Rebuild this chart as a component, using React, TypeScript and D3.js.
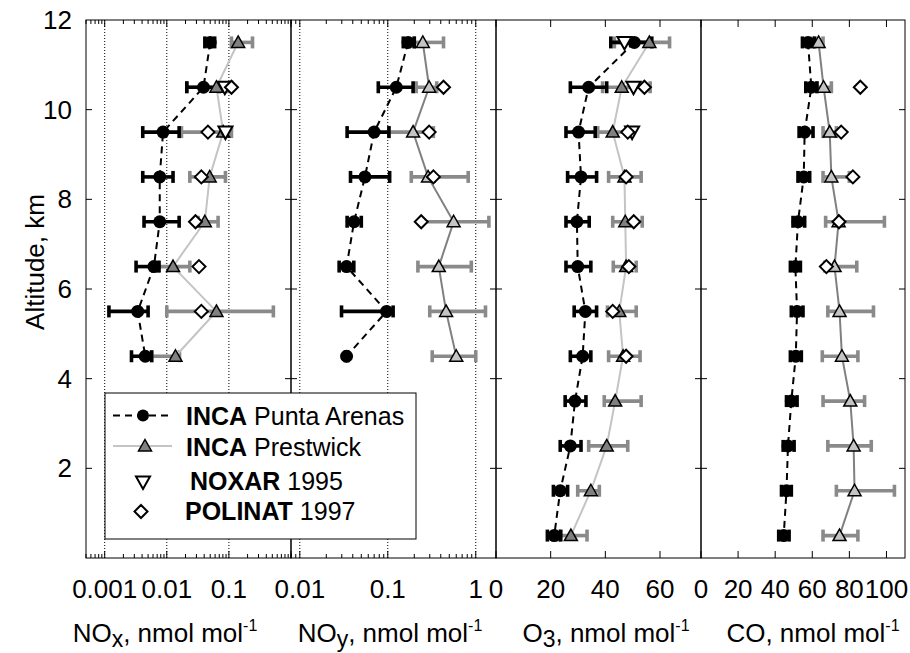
import * as d3 from "d3";

// [altitude km, mean, low, high]
type Row = [number, number, number, number];
// [altitude km, value]
type Pt = [number, number];

const altTicks = [2, 4, 6, 8, 10, 12];

const noxPunta: Row[] = [
  [11.5, 0.05, 0.041, 0.059],
  [10.5, 0.039, 0.021, 0.07],
  [9.5, 0.0087, 0.0041, 0.0158],
  [8.5, 0.0077, 0.0041, 0.0126],
  [7.5, 0.0077, 0.0043, 0.0158],
  [6.5, 0.0062, 0.0032, 0.0075],
  [5.5, 0.0034, 0.00117, 0.005],
  [4.5, 0.0045, 0.0027, 0.0057],
];
const noxPrest: Row[] = [
  [11.5, 0.141, 0.11, 0.24],
  [10.5, 0.063, 0.021, 0.092],
  [9.5, 0.081, 0.0172, 0.11],
  [8.5, 0.049, 0.0235, 0.088],
  [7.5, 0.041, 0.032, 0.067],
  [6.5, 0.0126, 0.0072, 0.0235],
  [5.5, 0.063, 0.01, 0.52],
  [4.5, 0.0138, 0.0057, 0.016],
];
const noxNoxar: Pt[] = [
  [10.5, 0.086],
  [9.5, 0.088],
];
const noxPolinat: Pt[] = [
  [10.5, 0.11],
  [9.5, 0.046],
  [8.5, 0.036],
  [7.5, 0.029],
  [6.5, 0.033],
  [5.5, 0.036],
];

const noyPunta: Row[] = [
  [11.5, 0.17, 0.15, 0.2],
  [10.5, 0.125, 0.078, 0.194],
  [9.5, 0.07, 0.0345, 0.103],
  [8.5, 0.055, 0.0377, 0.105],
  [7.5, 0.0414, 0.0345, 0.05],
  [6.5, 0.034, 0.028, 0.0411],
  [5.5, 0.097, 0.0298, 0.115],
  [4.5, 0.034, 0.033, 0.035],
];
const noyPrest: Row[] = [
  [11.5, 0.25, 0.2, 0.43],
  [10.5, 0.295, 0.21, 0.36],
  [9.5, 0.194, 0.103, 0.33],
  [8.5, 0.287, 0.185, 0.82],
  [7.5, 0.56, 0.24, 1.41],
  [6.5, 0.38, 0.22, 0.89],
  [5.5, 0.46, 0.3, 1.29],
  [4.5, 0.6, 0.32, 1.0],
];
const noyPolinat: Pt[] = [
  [10.5, 0.43],
  [9.5, 0.295],
  [8.5, 0.33],
  [7.5, 0.24],
];

const o3Punta: Row[] = [
  [11.5, 50.6, 42, 57],
  [10.5, 33.9, 27.2, 40.5],
  [9.5, 30.2, 25.6, 36.3],
  [8.5, 31.1, 26.2, 36.8],
  [7.5, 29.6, 25.6, 34.1],
  [6.5, 29.9, 25.6, 34.7],
  [5.5, 32.7, 28.6, 36.8],
  [4.5, 31.7, 27.2, 34.7],
  [3.5, 28.9, 25.3, 32.9],
  [2.5, 27.2, 23.5, 31.1],
  [1.5, 23.5, 21, 26.2],
  [0.5, 21.3, 18.8, 23.7],
];
const o3Prest: Row[] = [
  [11.5, 56.1, 43.3, 63.5],
  [10.5, 46, 39, 56.4],
  [9.5, 42.7, 37.2, 49.4],
  [8.5, 47, 41.2, 53.1],
  [7.5, 47.3, 42.7, 53.5],
  [6.5, 47.6, 42.9, 51.3],
  [5.5, 45.1, 40.8, 51.3],
  [4.5, 46.5, 41.2, 52.7],
  [3.5, 43.6, 39.6, 53.1],
  [2.5, 40.5, 33.9, 48.2],
  [1.5, 34.7, 29.9, 37.8],
  [0.5, 27.4, 23.1, 33.3],
];
const o3Noxar: Pt[] = [
  [11.5, 47],
  [10.5, 50.3],
  [9.5, 49.8],
];
const o3Polinat: Pt[] = [
  [10.5, 54.3],
  [9.5, 48.2],
  [8.5, 47.6],
  [7.5, 50.4],
  [6.5, 48.6],
  [5.5, 42.7],
  [4.5, 47.6],
];

const coPunta: Row[] = [
  [11.5, 57.7, 54.7, 61.3],
  [10.5, 59.5, 56.5, 62.5],
  [9.5, 55.9, 52.9, 60.4],
  [8.5, 55.4, 52.3, 58.6],
  [7.5, 52.3, 49.6, 55.9],
  [6.5, 50.9, 48.2, 53.6],
  [5.5, 51.8, 48.7, 55],
  [4.5, 51.1, 48.2, 54.1],
  [3.5, 48.7, 46.1, 51.8],
  [2.5, 46.9, 44.3, 50.2],
  [1.5, 46.1, 43.4, 48.7],
  [0.5, 44.6, 41.9, 47.5],
];
const coPrest: Row[] = [
  [11.5, 63.4, 60.4, 65.8],
  [10.5, 66.1, 62.5, 70.3],
  [9.5, 69.4, 65.8, 73],
  [8.5, 70.3, 65.8, 80],
  [7.5, 74.2, 67.2, 98.9],
  [6.5, 72, 66.7, 84],
  [5.5, 74.7, 68.4, 93],
  [4.5, 76, 65.4, 84.6],
  [3.5, 80.5, 65.8, 88.2],
  [2.5, 82.3, 68.4, 91.8],
  [1.5, 82.8, 73, 104.3],
  [0.5, 74.7, 65.8, 84.6],
];
const coPolinat: Pt[] = [
  [10.5, 85.9],
  [9.5, 75.6],
  [8.5, 81.9],
  [7.5, 74.4],
  [6.5, 67.6],
];

const noxTicks = [0.001, 0.01, 0.1];
const noyTicks = [0.01, 0.1, 1];
const o3Ticks = [0, 20, 40, 60];
const coTicks = [0, 20, 40, 60, 80, 100];

const FONT = "Liberation Sans, Arial, Helvetica, sans-serif";
const TOP = 20;
const BOTTOM = 558;
const LIGHT = "#c4c4c4";
const DARK = "#808080";
const BAR = "#8a8a8a";

const y = d3.scaleLinear().domain([0, 12]).range([BOTTOM, TOP]);

type XScale = (v: number) => number;

interface PanelDef {
  x: XScale;
  x0: number;
  x1: number;
  log: boolean;
  domain: [number, number];
  ticks: number[];
  punta: Row[];
  prest: Row[];
  noxar: Pt[];
  polinat: Pt[];
  prestLine: string;
  prestFill: string;
  title: string;
  sub?: string;
  titleX: number;
}

const xNOx = d3.scaleLog().domain([0.0005, 1]).range([86, 291]);
const xNOy = d3
  .scaleLog()
  .domain([Math.pow(10, -2.1), Math.pow(10, 0.23)])
  .range([291, 496]);
const xO3 = d3.scaleLinear().domain([0, 75]).range([496, 701]);
const xCO = d3.scaleLinear().domain([0, 110]).range([701, 905]);

const panels: PanelDef[] = [
  {
    x: xNOx, x0: 86, x1: 291, log: true, domain: [0.0005, 1], ticks: noxTicks,
    punta: noxPunta, prest: noxPrest, noxar: noxNoxar, polinat: noxPolinat,
    prestLine: LIGHT, prestFill: DARK, title: "NO", sub: "x", titleX: 165,
  },
  {
    x: xNOy, x0: 291, x1: 496, log: true, domain: [Math.pow(10, -2.1), Math.pow(10, 0.23)],
    ticks: noyTicks, punta: noyPunta, prest: noyPrest, noxar: [], polinat: noyPolinat,
    prestLine: DARK, prestFill: LIGHT, title: "NO", sub: "y", titleX: 390,
  },
  {
    x: xO3, x0: 496, x1: 701, log: false, domain: [0, 75], ticks: o3Ticks,
    punta: o3Punta, prest: o3Prest, noxar: o3Noxar, polinat: o3Polinat,
    prestLine: LIGHT, prestFill: DARK, title: "O", sub: "3", titleX: 606,
  },
  {
    x: xCO, x0: 701, x1: 905, log: false, domain: [0, 110], ticks: coTicks,
    punta: coPunta, prest: coPrest, noxar: [], polinat: coPolinat,
    prestLine: DARK, prestFill: LIGHT, title: "CO", titleX: 813,
  },
];

function logTicks(domain: [number, number]) {
  const out: { v: number; major: boolean }[] = [];
  const e0 = Math.floor(Math.log10(domain[0]));
  const e1 = Math.ceil(Math.log10(domain[1]));
  for (let e = e0; e <= e1; e++) {
    for (let m = 1; m <= 9; m++) {
      const v = m * Math.pow(10, e);
      if (v >= domain[0] * 0.999 && v <= domain[1] * 1.001) out.push({ v, major: m === 1 });
    }
  }
  return out;
}

const up = "M0,-6.5L6.5,5L-6.5,5Z";
const down = "M0,7L7,-5.5L-7,-5.5Z";
const diamond = "M0,-6.5L6.5,0L0,6.5L-6.5,0Z";

function ErrBars({ rows, x, color }: { rows: Row[]; x: XScale; color: string }) {
  return (
    <g stroke={color} strokeWidth={3.6} fill="none">
      {rows.map((r, i) => {
        const yy = y(r[0]);
        const a = x(r[2]);
        const b = x(r[3]);
        return (
          <g key={i}>
            <line x1={a} x2={b} y1={yy} y2={yy} />
            <line x1={a} x2={a} y1={yy - 6} y2={yy + 6} />
            <line x1={b} x2={b} y1={yy - 6} y2={yy + 6} />
          </g>
        );
      })}
    </g>
  );
}

function Panel({ p }: { p: PanelDef }) {
  const line = d3
    .line<Row>()
    .x((d) => p.x(d[1]))
    .y((d) => y(d[0]));
  const tickMarks = p.log
    ? logTicks(p.domain)
    : p.ticks.map((v) => ({ v, major: true }));
  return (
    <g>
      {p.log &&
        p.ticks.map((v) => (
          <line
            key={"g" + v}
            x1={p.x(v)}
            x2={p.x(v)}
            y1={TOP}
            y2={BOTTOM}
            stroke="#000"
            strokeWidth={1}
            strokeDasharray="1,2"
          />
        ))}
      <ErrBars rows={p.prest} x={p.x} color={BAR} />
      <path d={line(p.prest) || ""} fill="none" stroke={p.prestLine} strokeWidth={2} />
      <ErrBars rows={p.punta} x={p.x} color="#000" />
      <path
        d={line(p.punta) || ""}
        fill="none"
        stroke="#000"
        strokeWidth={2}
        strokeDasharray="7,5"
      />
      {p.prest.map((r, i) => (
        <path
          key={"t" + i}
          d={up}
          transform={`translate(${p.x(r[1])},${y(r[0])})`}
          fill={p.prestFill}
          stroke="#000"
          strokeWidth={1.5}
        />
      ))}
      {p.punta.map((r, i) => (
        <circle key={"c" + i} cx={p.x(r[1])} cy={y(r[0])} r={6.5} fill="#000" />
      ))}
      {p.noxar.map((r, i) => (
        <path
          key={"n" + i}
          d={down}
          transform={`translate(${p.x(r[1])},${y(r[0])})`}
          fill="#fff"
          stroke="#000"
          strokeWidth={2}
        />
      ))}
      {p.polinat.map((r, i) => (
        <path
          key={"p" + i}
          d={diamond}
          transform={`translate(${p.x(r[1])},${y(r[0])})`}
          fill="#fff"
          stroke="#000"
          strokeWidth={2}
        />
      ))}
      <rect
        x={p.x0}
        y={TOP}
        width={p.x1 - p.x0}
        height={BOTTOM - TOP}
        fill="none"
        stroke="#000"
        strokeWidth={1}
      />
      <g stroke="#000" strokeWidth={1}>
        {altTicks.slice(0, -1).map((a) => (
          <g key={"y" + a}>
            <line x1={p.x0} x2={p.x0 + 6} y1={y(a)} y2={y(a)} />
            <line x1={p.x1} x2={p.x1 - 6} y1={y(a)} y2={y(a)} />
          </g>
        ))}
        {tickMarks.map((t, i) => {
          const len = t.major ? 7 : 4;
          const xx = p.x(t.v);
          return (
            <g key={"x" + i}>
              <line x1={xx} x2={xx} y1={TOP} y2={TOP + len} />
              <line x1={xx} x2={xx} y1={BOTTOM} y2={BOTTOM - len} />
            </g>
          );
        })}
      </g>
      <g fontFamily={FONT} fontSize={26} textAnchor="middle" fill="#000">
        {p.ticks.map((v) => (
          <text key={"l" + v} x={p.x(v)} y={598}>
            {String(v)}
          </text>
        ))}
        <text x={p.titleX} y={642}>
          {p.title}
          {p.sub && (
            <tspan fontSize={23} dy={5}>
              {p.sub}
            </tspan>
          )}
          <tspan dy={p.sub ? -5 : 0}>, nmol mol</tspan>
          <tspan fontSize={16} dy={-11}>
            -1
          </tspan>
        </text>
      </g>
    </g>
  );
}

function Legend() {
  const x0 = 105;
  const rows = [415.5, 446, 482, 511.5];
  return (
    <g fontFamily={FONT} fontSize={25}>
      <rect x={x0} y={393} width={311} height={146} fill="#fff" stroke="#000" strokeWidth={1} />
      <line x1={113} x2={172} y1={rows[0]} y2={rows[0]} stroke="#000" strokeWidth={2} strokeDasharray="7,5" />
      <circle cx={143} cy={rows[0]} r={6} fill="#000" />
      <line x1={113} x2={172} y1={rows[1]} y2={rows[1]} stroke={LIGHT} strokeWidth={2} />
      <path d={up} transform={`translate(145,${rows[1]})`} fill={DARK} stroke="#000" strokeWidth={1.5} />
      <path d={down} transform={`translate(143,${rows[2]})`} fill="#fff" stroke="#000" strokeWidth={2} />
      <path d={diamond} transform={`translate(141,${rows[3]})`} fill="#fff" stroke="#000" strokeWidth={2} />
      <text x={186} y={425}>
        <tspan fontWeight="bold">INCA</tspan> Punta Arenas
      </text>
      <text x={186} y={456}>
        <tspan fontWeight="bold">INCA</tspan> Prestwick
      </text>
      <text x={190} y={490}>
        <tspan fontWeight="bold">NOXAR</tspan> 1995
      </text>
      <text x={185} y={520}>
        <tspan fontWeight="bold">POLINAT</tspan> 1997
      </text>
    </g>
  );
}

export default function App() {
  return (
    <svg
      width={910}
      height={653}
      viewBox="0 0 910 653"
      style={{ position: "absolute", left: 0, top: 0, background: "#fff" }}
    >
      {panels.map((p, i) => (
        <Panel key={i} p={p} />
      ))}
      <g fontFamily={FONT} fontSize={26} fill="#000">
        {altTicks.map((a) => (
          <text key={a} x={72} y={y(a)} dy="0.35em" textAnchor="end">
            {a}
          </text>
        ))}
        <text transform="translate(44,262) rotate(-90)" textAnchor="middle">
          Altitude, km
        </text>
      </g>
      <Legend />
    </svg>
  );
}
